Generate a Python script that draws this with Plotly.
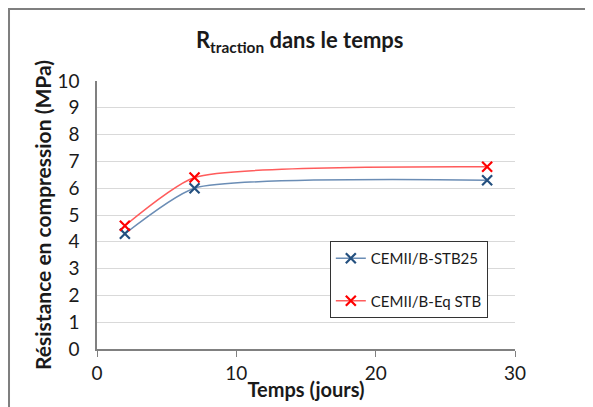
import plotly.graph_objects as go

# données
jours = [2, 7, 28]
stb25 = [4.3, 6.0, 6.3]
eq_stb = [4.6, 6.4, 6.8]
noms = ["CEMII/B-STB25", "CEMII/B-Eq STB"]

police = "Lato"

fig = go.Figure()
fig.add_trace(go.Scatter(
    x=jours, y=stb25, name=noms[0], legendgroup="a",
    mode="lines+markers", line=dict(color="#6b8db5", width=1.5, shape="spline", smoothing=0.55),
    marker=dict(symbol="x-thin", size=10, line=dict(color="#24507f", width=2.2)),
))
fig.add_trace(go.Scatter(
    x=jours, y=eq_stb, name=noms[1], legendgroup="b",
    mode="lines+markers", line=dict(color="#ff5c5c", width=1.5, shape="spline", smoothing=0.55),
    marker=dict(symbol="x-thin", size=10, line=dict(color="#ff0000", width=2.2)),
))

# cadre extérieur (coupé à droite et en bas)
fig.add_shape(type="rect", xref="paper", yref="paper",
              x0=-0.2105, x1=1.6, y0=-0.5, y1=1.2687,
              line=dict(color="#7f7f7f", width=2), layer="below")

fig.update_layout(
    width=593, height=407,
    margin=dict(l=89, r=86, t=73, b=66),
    paper_bgcolor="white", plot_bgcolor="white",
    font=dict(family=police, size=19, color="#1a1a1a"),
    title=dict(text="<b>R<sub>traction</sub> dans le temps</b>",
               x=0.492, xanchor="center", y=0.92, yanchor="middle",
               font=dict(size=22, color="#1a1a1a")),
    xaxis=dict(range=[0, 30], dtick=10, showgrid=False, zeroline=False,
               showline=True, linecolor="#808080", linewidth=1.5,
               ticks="outside", ticklen=6, tickcolor="#808080",
               title=dict(text="<b>Temps (jours)</b>", standoff=0, font=dict(size=20))),
    yaxis=dict(range=[0, 10], dtick=1, showgrid=True, gridcolor="#d9d9d9", gridwidth=1,
               zeroline=False, showline=True, linecolor="#808080", linewidth=1.5,
               ticks="", ticklabelstandoff=12,
               title=dict(text="<b>Résistance en compression (MPa)</b>", standoff=0,
                          font=dict(size=21))),
    legend=dict(x=0.557, y=0.403, xanchor="left", yanchor="top",
                bordercolor="#333333", borderwidth=1, bgcolor="white",
                font=dict(size=15), tracegroupgap=20, itemwidth=30),
    showlegend=True,
)

fig.write_html("out.html")
